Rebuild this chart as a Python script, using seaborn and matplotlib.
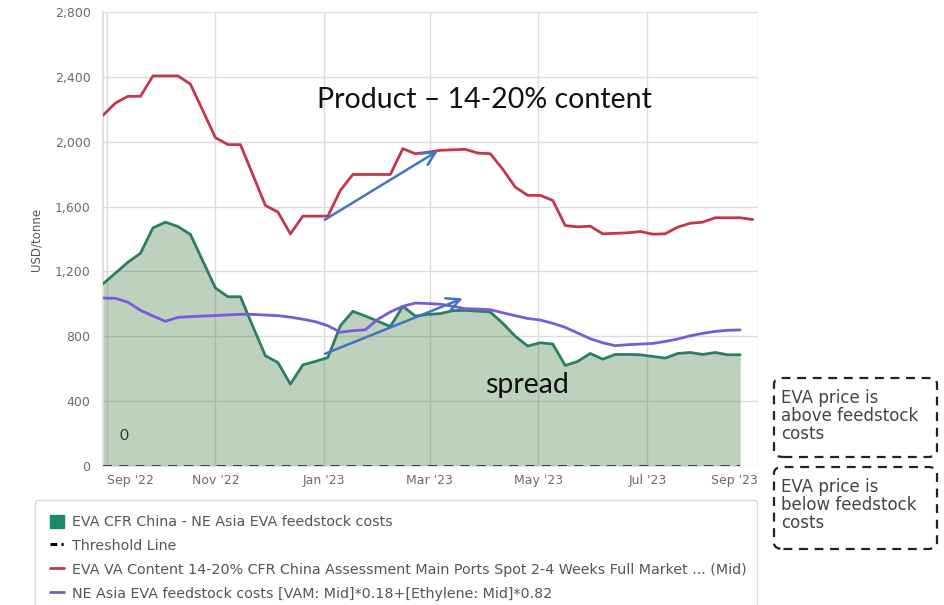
import numpy as np
import pandas as pd
import matplotlib
matplotlib.use("Agg")
import matplotlib.pyplot as plt
import matplotlib.dates as mdates
import matplotlib.ticker as mticker
from matplotlib.patches import FancyBboxPatch, Patch
from matplotlib.lines import Line2D
import seaborn as sns

# Weekly assessments, USD/tonne
start_date = "2022-08-30"

eva_price = [2163, 2239, 2280, 2280, 2406, 2406, 2406, 2355, 2190, 2025,
             1982, 1982, 1795, 1607, 1566, 1432, 1541, 1541, 1541, 1700,
             1798, 1798, 1798, 1798, 1957, 1926, 1935, 1947, 1950, 1953,
             1930, 1926, 1830, 1720, 1669, 1669, 1638, 1483, 1475, 1479,
             1432, 1435, 1438, 1446, 1430, 1432, 1473, 1497, 1504, 1531,
             1531, 1531, 1520]

feedstock_cost = [1036, 1034, 1010, 960, 925, 892, 917, 921, 925, 928,
                  932, 936, 935, 931, 927, 918, 905, 890, 865, 825,
                  835, 840, 905, 950, 985, 1005, 1002, 998, 985, 970,
                  968, 964, 945, 927, 910, 900, 880, 855, 820, 785,
                  760, 742, 748, 752, 756, 768, 783, 803, 818, 830,
                  837, 839]

spread = [1123, 1190, 1257, 1312, 1469, 1504, 1477, 1428, 1263, 1098,
          1044, 1044, 860, 680, 638, 505, 624, 645, 669, 865,
          954, 925, 893, 861, 985, 925, 935, 940, 958, 960,
          955, 950, 880, 800, 740, 760, 752, 620, 645, 694,
          659, 688, 688, 686, 676, 665, 694, 700, 688, 700,
          686, 686]

threshold = 0

y_ticks = [0, 400, 800, 1200, 1600, 2000, 2400, 2800]
x_tick_dates = ["2022-09-01", "2022-11-01", "2023-01-01", "2023-03-01",
                "2023-05-01", "2023-07-01", "2023-09-01"]
x_tick_labels = ["Sep '22", "Nov '22", "Jan '23", "Mar '23",
                 "May '23", "Jul '23", "Sep '23"]

legend_labels = [
    "EVA CFR China - NE Asia EVA feedstock costs",
    "Threshold Line",
    "EVA VA Content 14-20% CFR China Assessment Main Ports Spot 2-4 Weeks Full Market ... (Mid)",
    "NE Asia EVA feedstock costs [VAM: Mid]*0.18+[Ethylene: Mid]*0.82",
]

price_dates = pd.date_range(start_date, periods=len(eva_price), freq="7D")
cost_dates = price_dates[:len(feedstock_cost)]

price_df = pd.DataFrame({"date": price_dates, "value": eva_price})
cost_df = pd.DataFrame({"date": cost_dates, "value": feedstock_cost})
spread_df = pd.DataFrame({"date": cost_dates, "value": spread})

RED = "#c2364f"
PURPLE = "#7a5ad8"
GREEN_LINE = "#2a7f62"
GREEN_FILL = "#3f7a3c"
TEAL = "#1b8a6c"
GRID = "#dcdcdc"
TICK = "#6b6b6b"

sns.set_theme(style="white")
plt.rcParams["font.family"] = ["DejaVu Sans"]

fig = plt.figure(figsize=(9.44, 6.05), dpi=100)
ax = fig.add_axes([103 / 944, 1 - 466 / 605, 655 / 944, 454 / 605])

# spread area
ax.fill_between(spread_df["date"], 0, spread_df["value"],
                color=GREEN_FILL, alpha=0.34, linewidth=0, zorder=2)
sns.lineplot(data=spread_df, x="date", y="value", ax=ax, color=GREEN_LINE,
             linewidth=2.0, zorder=4)
sns.lineplot(data=cost_df, x="date", y="value", ax=ax, color=PURPLE,
             linewidth=2.0, zorder=5)
sns.lineplot(data=price_df, x="date", y="value", ax=ax, color=RED,
             linewidth=2.0, zorder=5)

# threshold line at zero
ax.plot([cost_dates[0], cost_dates[-1]], [threshold, threshold],
        color="#333333", linewidth=1.3, linestyle=(0, (5, 4)), zorder=6)

ax.set_xlim(pd.Timestamp(start_date), pd.Timestamp("2023-09-01"))
ax.set_ylim(0, 2800)
ax.set_yticks(y_ticks)
ax.yaxis.set_major_formatter(mticker.FuncFormatter(lambda v, p: f"{int(v):,}"))
tick_pos = [pd.Timestamp(d) for d in x_tick_dates]
ax.set_xticks(tick_pos)
ax.set_xticklabels(x_tick_labels)
for i, lbl in enumerate(ax.get_xticklabels()):
    if i == 0:
        lbl.set_ha("left")
    elif i == len(x_tick_labels) - 1:
        lbl.set_ha("right")

ax.grid(True, color=GRID, linewidth=1.0, zorder=1)
ax.set_axisbelow(True)
for side in ["top", "right", "bottom"]:
    ax.spines[side].set_visible(False)
ax.spines["left"].set_color(GRID)
ax.tick_params(axis="both", length=0, labelsize=9, labelcolor=TICK)
ax.tick_params(axis="x", pad=6)
ax.tick_params(axis="y", pad=9)
ax.set_xlabel("")
ax.set_ylabel("USD/tonne", fontsize=8.5, color="#555555", labelpad=9)

# annotations
ax.text(pd.Timestamp("2022-09-08"), 160, "0", fontsize=11, color="#333333",
        family="Lato", zorder=7)
ax.text(pd.Timestamp("2022-12-28"), 2260, "Product \u2013 14-20% content",
        fontsize=20.5, color="#111111", family="Lato", zorder=7, va="center")
ax.text(pd.Timestamp("2023-04-01"), 500, "spread", fontsize=20.5,
        color="#111111", family="Lato", zorder=7, va="center")

ARROW = "#4472c4"
ax.annotate("", xy=(pd.Timestamp("2023-03-07"), 1953),
            xytext=(pd.Timestamp("2022-12-31"), 1510),
            arrowprops=dict(arrowstyle="->,head_length=0.8,head_width=0.4",
                            color=ARROW, lw=1.8), zorder=8)
ax.annotate("", xy=(pd.Timestamp("2023-03-21"), 1040),
            xytext=(pd.Timestamp("2022-12-31"), 686),
            arrowprops=dict(arrowstyle="->,head_length=0.8,head_width=0.4",
                            color=ARROW, lw=1.8), zorder=8)

# legend
handles = [
    Patch(facecolor=TEAL, edgecolor=TEAL),
    Line2D([0], [0], color="black", linewidth=2.2, linestyle=(0, (2.2, 1.4, 0.7, 1.4))),
    Line2D([0], [0], color=RED, linewidth=2.0),
    Line2D([0], [0], color=PURPLE, linewidth=2.0),
]
leg = fig.legend(handles, legend_labels, loc="upper left",
                 bbox_to_anchor=(35 / 944, 0.0, 722 / 944, 1 - 500 / 605),
                 bbox_transform=fig.transFigure, mode="expand",
                 frameon=True, fancybox=True, fontsize=10.3,
                 labelcolor="#555555", handlelength=1.0, handleheight=1.0,
                 handletextpad=0.55, labelspacing=0.66, borderpad=1.05,
                 borderaxespad=0.0)
leg.get_frame().set_edgecolor("#cfcfcf")
leg.get_frame().set_linewidth(1.0)

# explanatory dashed boxes
box_text = [("EVA price is\nabove feedstock\ncosts", 378, 457),
            ("EVA price is\nbelow feedstock\ncosts", 467, 549)]
for txt, top_px, bot_px in box_text:
    x0, x1 = 774 / 944, 937 / 944
    y0, y1 = 1 - bot_px / 605, 1 - top_px / 605
    patch = FancyBboxPatch((x0, y0), x1 - x0, y1 - y0,
                           boxstyle="round,pad=0,rounding_size=0.01",
                           transform=fig.transFigure, fill=False,
                           edgecolor="#222222", linewidth=1.6,
                           linestyle=(0, (4, 3)))
    fig.add_artist(patch)
    fig.text(781 / 944, 1 - (top_px + 11) / 605, txt, fontsize=12,
             color="#444444", va="top", ha="left", linespacing=1.0)

fig.savefig("out.png", dpi=100)
